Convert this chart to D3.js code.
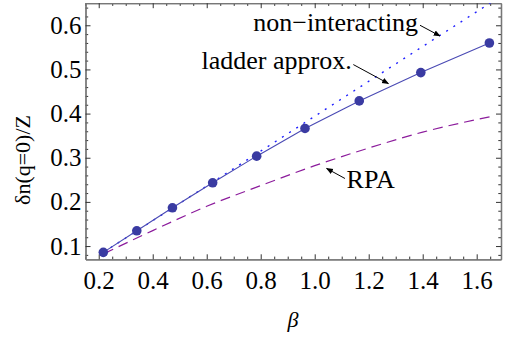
<!DOCTYPE html>
<html>
<head>
<meta charset="utf-8">
<script src="https://cdn.jsdelivr.net/npm/d3@7/dist/d3.min.js"></script>
<style>
html,body{margin:0;padding:0;background:#fff;}
svg{display:block;}
</style>
</head>
<body>
<svg id="chart" width="510" height="339"></svg>
<script>
// ---- data ----
const betaLadder = [0.217, 0.341, 0.473, 0.622, 0.785, 0.964, 1.165, 1.393, 1.647];
const ladderValues = [0.0857, 0.1346, 0.1866, 0.2432, 0.3036, 0.3663, 0.4287, 0.4928, 0.5599];

const betaNonInt = [0.217, 0.6, 1.0, 1.4, 1.7];
const nonIntValues = [0.0857, 0.236, 0.394, 0.552, 0.670];

const betaRPA = [0.22, 0.4, 0.6, 0.8, 1.0, 1.2, 1.4, 1.65];
const rpaValues = [0.083, 0.135, 0.190, 0.237, 0.282, 0.322, 0.358, 0.393];

const xMajorTicks = [0.2, 0.4, 0.6, 0.8, 1.0, 1.2, 1.4, 1.6];
const xTickLabels = ["0.2", "0.4", "0.6", "0.8", "1.0", "1.2", "1.4", "1.6"];
const yMajorTicks = [0.1, 0.2, 0.3, 0.4, 0.5, 0.6];
const yTickLabels = ["0.1", "0.2", "0.3", "0.4", "0.5", "0.6"];

// annotation labels: text anchor point and arrow (data coordinates)
const annotationTexts = ["non\u2212interacting", "ladder approx.", "RPA"];
const annotationTextPos = [[1.383, 0.5864], [1.137, 0.502], [1.118, 0.231]];
const annotationAnchors = ["end", "end", "start"];
const annotationArrowFrom = [[1.390, 0.600], [1.143, 0.511], [1.112, 0.253]];
const annotationArrowTo = [[1.464, 0.5758], [1.273, 0.468], [1.044, 0.2758]];

const SERIF = "Tinos, 'Times New Roman', Times, 'Liberation Serif', 'Noto Serif', 'DejaVu Serif', FreeSerif, 'Nimbus Roman', serif";

// ---- layout ----
const svg = d3.select("#chart");
const L = 85.5, R = 501, T = 3.2, B = 259.3;

const x = d3.scaleLinear().domain([0.151, 1.690]).range([L, R]);
const y = d3.scaleLinear().domain([0.07, 0.65]).range([B, T]);

const xMinor = d3.range(0.15, 1.70, 0.05).filter(v => Math.abs(v/0.2 - Math.round(v/0.2)) > 1e-6);
const yMinor = d3.range(0.08, 0.65, 0.02).filter(v => Math.abs(v/0.1 - Math.round(v/0.1)) > 1e-6);

const defs = svg.append("defs");
defs.append("clipPath").attr("id", "clip")
  .append("rect").attr("x", L).attr("y", T).attr("width", R - L).attr("height", B - T);
defs.append("marker").attr("id", "arrow")
  .attr("viewBox", "0 0 10 10").attr("refX", 9).attr("refY", 5)
  .attr("markerWidth", 7).attr("markerHeight", 7).attr("markerUnits", "userSpaceOnUse")
  .attr("orient", "auto")
  .append("path").attr("d", "M0,1 L10,5 L0,9 Z").attr("fill", "#000");

// ---- axes (frame with inward ticks) ----
function styleAxis(g) {
  g.attr("font-family", SERIF).attr("font-size", 25);
  g.select(".domain").attr("stroke", "#777").attr("stroke-width", 1.3);
  g.selectAll(".tick line").attr("stroke", "#333").attr("stroke-width", 1);
  g.selectAll("text").attr("fill", "#000")
    .attr("font-family", SERIF).attr("font-size", 25);
}

const labelX = d => xTickLabels[xMajorTicks.indexOf(d)];
const labelY = d => yTickLabels[yMajorTicks.indexOf(d)];

// bottom
svg.append("g").attr("transform", `translate(0,${B})`)
  .call(d3.axisBottom(x).tickValues(xMinor).tickSize(-2.7).tickFormat("").tickSizeOuter(0))
  .call(styleAxis);
svg.append("g").attr("transform", `translate(0,${B})`)
  .call(d3.axisBottom(x).tickValues(xMajorTicks).tickSize(-5).tickFormat(labelX).tickSizeOuter(0))
  .call(styleAxis)
  .call(g => g.selectAll("text").attr("dy", "0.71em").attr("y", 12));
// top
svg.append("g").attr("transform", `translate(0,${T})`)
  .call(d3.axisTop(x).tickValues(xMinor).tickSize(-2.7).tickFormat("").tickSizeOuter(0))
  .call(styleAxis);
svg.append("g").attr("transform", `translate(0,${T})`)
  .call(d3.axisTop(x).tickValues(xMajorTicks).tickSize(-5).tickFormat("").tickSizeOuter(0))
  .call(styleAxis);
// left
svg.append("g").attr("transform", `translate(${L},0)`)
  .call(d3.axisLeft(y).tickValues(yMinor).tickSize(-2.7).tickFormat("").tickSizeOuter(0))
  .call(styleAxis);
svg.append("g").attr("transform", `translate(${L},0)`)
  .call(d3.axisLeft(y).tickValues(yMajorTicks).tickSize(-5).tickFormat(labelY).tickSizeOuter(0))
  .call(styleAxis)
  .call(g => g.selectAll("text").attr("x", -4));
// right
svg.append("g").attr("transform", `translate(${R},0)`)
  .call(d3.axisRight(y).tickValues(yMinor).tickSize(-2.7).tickFormat("").tickSizeOuter(0))
  .call(styleAxis);
svg.append("g").attr("transform", `translate(${R},0)`)
  .call(d3.axisRight(y).tickValues(yMajorTicks).tickSize(-5).tickFormat("").tickSizeOuter(0))
  .call(styleAxis);

// ---- curves ----
const plot = svg.append("g").attr("clip-path", "url(#clip)");

const lineLinear = d3.line().x(d => x(d[0])).y(d => y(d[1]));
const lineSmooth = d3.line().x(d => x(d[0])).y(d => y(d[1])).curve(d3.curveMonotoneX);

plot.append("path")
  .datum(betaRPA.map((b, i) => [b, rpaValues[i]]))
  .attr("d", lineSmooth).attr("fill", "none")
  .attr("stroke", "#8c1c9c").attr("stroke-width", 1.2).attr("stroke-dasharray", "10,6");

plot.append("path")
  .datum(betaNonInt.map((b, i) => [b, nonIntValues[i]]))
  .attr("d", lineLinear).attr("fill", "none")
  .attr("stroke", "#1f1fff").attr("stroke-width", 1.4).attr("stroke-dasharray", "2,6.5");

const ladderData = betaLadder.map((b, i) => [b, ladderValues[i]]);
plot.append("path")
  .datum(ladderData)
  .attr("d", lineLinear).attr("fill", "none")
  .attr("stroke", "#4a4ab4").attr("stroke-width", 1.1);

plot.selectAll("circle.pt").data(ladderData).enter().append("circle")
  .attr("class", "pt")
  .attr("cx", d => x(d[0])).attr("cy", d => y(d[1])).attr("r", 4.8)
  .attr("fill", "#3a3ba2");

// ---- annotations ----
annotationTexts.forEach((t, i) => {
  svg.append("text")
    .attr("x", x(annotationTextPos[i][0])).attr("y", y(annotationTextPos[i][1]))
    .attr("text-anchor", annotationAnchors[i])
    .attr("font-family", SERIF).attr("font-size", 26).attr("fill", "#000")
    .text(t);
  svg.append("line")
    .attr("x1", x(annotationArrowFrom[i][0])).attr("y1", y(annotationArrowFrom[i][1]))
    .attr("x2", x(annotationArrowTo[i][0])).attr("y2", y(annotationArrowTo[i][1]))
    .attr("stroke", "#000").attr("stroke-width", 1)
    .attr("marker-end", "url(#arrow)");
});

// ---- axis titles ----
svg.append("text")
  .attr("transform", "translate(30,160) rotate(-90)")
  .attr("text-anchor", "middle")
  .attr("font-family", SERIF).attr("font-size", 22).attr("fill", "#000")
  .text("\u03b4n(q=0)/Z");

svg.append("text")
  .attr("x", 293).attr("y", 327)
  .attr("text-anchor", "middle")
  .attr("font-family", SERIF).attr("font-size", 22).attr("font-style", "italic").attr("fill", "#000")
  .text("\u03b2");
</script>
</body>
</html>
